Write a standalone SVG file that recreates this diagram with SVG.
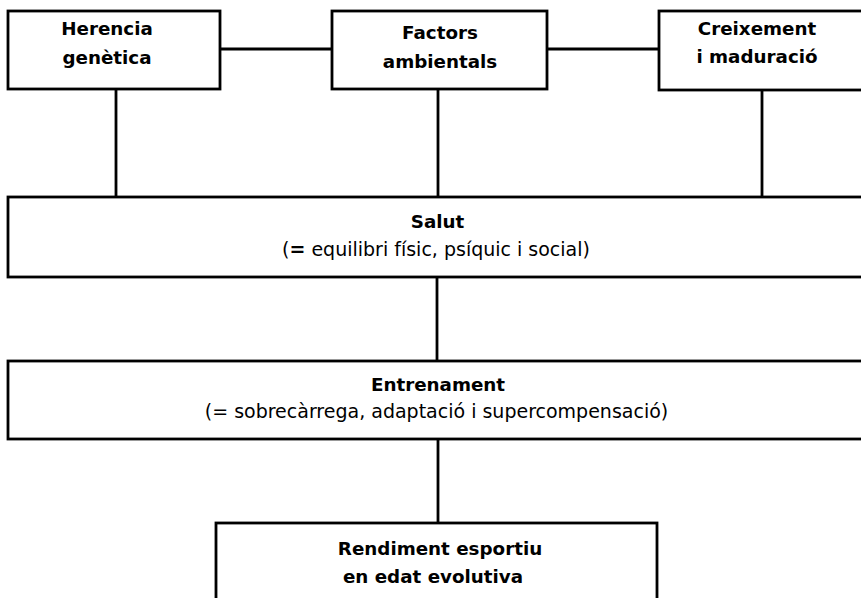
<svg xmlns="http://www.w3.org/2000/svg" width="861" height="598" viewBox="0 0 861 598">
<style>
.box{fill:#fff;stroke:#000;stroke-width:2.8}
.ln{stroke:#000;stroke-width:2.8;fill:none}
.b{font-family:"DejaVu Sans","Verdana",sans-serif;font-weight:bold;font-size:18.3px;fill:#000;text-anchor:middle}
.r{font-family:"DejaVu Sans","Verdana",sans-serif;font-size:19px;fill:#000;text-anchor:middle}
</style>
<rect width="861" height="598" fill="#fff"/>
<g id="connectors">
<line class="ln" x1="220" y1="49" x2="332" y2="49"/>
<line class="ln" x1="547" y1="49" x2="659" y2="49"/>
<line class="ln" x1="116" y1="89" x2="116" y2="197"/>
<line class="ln" x1="438" y1="89" x2="438" y2="197"/>
<line class="ln" x1="762" y1="90" x2="762" y2="197"/>
<line class="ln" x1="437" y1="277" x2="437" y2="361"/>
<line class="ln" x1="438" y1="439" x2="438" y2="523"/>
</g>
<g id="herencia">
<rect class="box" x="8" y="11" width="212" height="78"/>
<text class="b" x="107" y="35">Herencia</text>
<text class="b" x="107" y="64">genètica</text>
</g>
<g id="factors">
<rect class="box" x="332" y="11" width="215" height="78"/>
<text class="b" x="440" y="39">Factors</text>
<text class="b" x="440" y="68">ambientals</text>
</g>
<g id="creixement">
<rect class="box" x="659" y="11" width="215" height="79"/>
<text class="b" x="757" y="35">Creixement</text>
<text class="b" x="757" y="63">i maduració</text>
</g>
<g id="salut">
<rect class="box" x="8" y="197" width="866" height="80"/>
<text class="b" x="437.5" y="228">Salut</text>
<text class="r" x="436" y="256">(<tspan font-weight="bold">=</tspan> equilibri físic, psíquic i social)</text>
</g>
<g id="entrenament">
<rect class="box" x="8" y="361" width="866" height="78"/>
<text class="b" x="438" y="391">Entrenament</text>
<text class="r" x="436.5" y="418">(= sobrecàrrega, adaptació i supercompensació)</text>
</g>
<g id="rendiment">
<rect class="box" x="216" y="523" width="441" height="90"/>
<text class="b" x="440" y="555">Rendiment esportiu</text>
<text class="b" x="433" y="583">en edat evolutiva</text>
</g>
</svg>
